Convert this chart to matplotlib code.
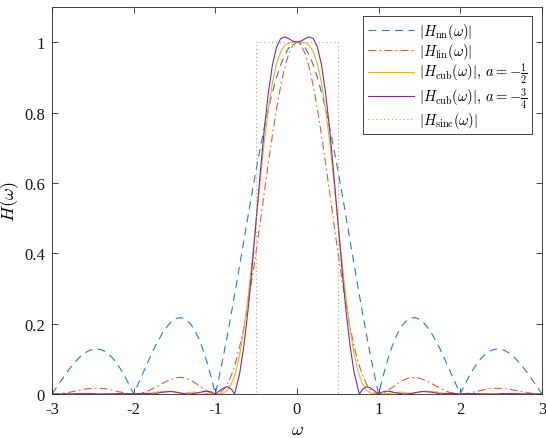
import numpy as np
import matplotlib
matplotlib.use('Agg')
import matplotlib.pyplot as plt

# magnitude responses, positive half (curves are symmetric)
omega = np.round(np.arange(0, 3.0001, 0.05), 3)
H_nn = np.array([1000, 996, 984, 963, 935, 900, 858, 810, 757, 699, 637, 572, 505, 436, 368, 300,
                 234, 170, 109, 52, 0, 47, 89, 126, 156, 180, 198, 210, 216, 217, 212, 203, 189,
                 172, 151, 129, 104, 78, 52, 26, 0, 24, 47, 67, 85, 100, 112, 121, 126, 128, 127,
                 123, 116, 107, 95, 82, 67, 51, 34, 17, 0]) / 1000
H_lin = np.array([1000, 992, 968, 928, 875, 811, 737, 657, 573, 488, 405, 327, 255, 190, 135, 90,
                  55, 29, 12, 3, 0, 2, 8, 16, 24, 32, 39, 44, 47, 47, 45, 41, 36, 30, 23, 17, 11,
                  6, 3, 1, 0, 1, 2, 5, 7, 10, 13, 15, 16, 16, 16, 15, 14, 11, 9, 7, 4, 3, 1, 0, 0]) / 1000
H_cub_half = np.array([1000, 1000, 998, 991, 973, 939, 885, 810, 716, 608, 493, 379, 274, 184, 113,
                       63, 30, 11, 3, 0, 0, 0, 1, 3, 4, 5, 5, 3, 0, 3, 6, 8, 8, 7, 6, 4, 2, 1, 0, 0,
                       0, 0, 0, 0, 1, 1, 1, 1, 0, 0, 1, 1, 2, 2, 1, 1, 1, 0, 0, 0, 0]) / 1000
omega_34 = np.array(list(omega[:16]) + [0.765] + list(omega[16:]))
H_cub_34 = np.array([1000, 1003, 1010, 1015, 1010, 986, 936, 857, 753, 628, 493, 359, 237, 137,
                     61, 12, 0, 13, 21, 17, 9, 0, 6, 8, 7, 4, 2, 0, 0, 2, 4, 6, 7, 6, 5, 3, 0, 1,
                     2, 2, 1, 0, 1, 1, 1, 1, 0, 0, 0, 0, 0, 1, 1, 1, 1, 1, 0, 0, 1, 0, 0, 0]) / 1000
omega_sinc = [-3, -0.5, -0.5, 0.5, 0.5, 3]
H_sinc = [0, 0, 1, 1, 0, 0]

def mirror(w, v):
    w = np.asarray(w); v = np.asarray(v)
    return np.concatenate([-w[:0:-1], w]), np.concatenate([v[:0:-1], v])

plt.rcParams['font.family'] = 'Liberation Serif'
plt.rcParams['mathtext.fontset'] = 'cm'
plt.rcParams['font.size'] = 12

fig = plt.figure(figsize=(5.46, 4.39), dpi=100)
ax = fig.add_axes([0.0952, 0.1002, 0.8974, 0.8816])

ax.plot(*mirror(omega, H_nn), color='#1f7fc8', ls=(0, (7, 5)), lw=0.8,
        label=r'$|H_{\rm nn}(\omega)|$')
ax.plot(*mirror(omega, H_lin), color='#dc6030', ls=(0, (7, 3, 1.5, 3)), lw=0.8,
        label=r'$|H_{\rm lin}(\omega)|$')
ax.plot(*mirror(omega, H_cub_half), color='#EDB120', lw=0.8,
        label=r'$|H_{\rm cub}(\omega)|,\, a=-\frac{1}{2}$')
ax.plot(*mirror(omega_34, H_cub_34), color='#7E2F8E', lw=0.8,
        label=r'$|H_{\rm cub}(\omega)|,\, a=-\frac{3}{4}$')
ax.plot(omega_sinc, H_sinc, color='#8fb860', ls=(0, (1, 2.5)), lw=0.8,
        label=r'$|H_{\rm sinc}(\omega)|$')

ax.set_xlim(-3, 3)
ax.set_ylim(0, 1.1)
ax.set_xticks([-3, -2, -1, 0, 1, 2, 3])
ax.set_xticklabels(['-3', '-2', '-1', '0', '1', '2', '3'])
ax.set_yticks([0, 0.2, 0.4, 0.6, 0.8, 1])
ax.set_yticklabels(['0', '0.2', '0.4', '0.6', '0.8', '1'])
ax.tick_params(direction='in', top=True, right=True, length=4, width=0.6, pad=5,
               colors='#262626', labelcolor='#1a1a1a', labelsize=12)
for s in ax.spines.values():
    s.set_color('#262626')
    s.set_linewidth(0.6)
ax.set_xlabel(r'$\omega$', fontsize=13, labelpad=3)
ax.set_ylabel(r'$H(\omega)$', fontsize=13, labelpad=2)

leg = ax.legend(loc='upper right', fontsize=10.5, handlelength=3.2, fancybox=False,
                framealpha=1, edgecolor='#262626', borderaxespad=0.65,
                labelspacing=0.0, handletextpad=0.35, borderpad=0.3)
leg.get_frame().set_linewidth(0.6)

fig.savefig('out.png', dpi=100)
